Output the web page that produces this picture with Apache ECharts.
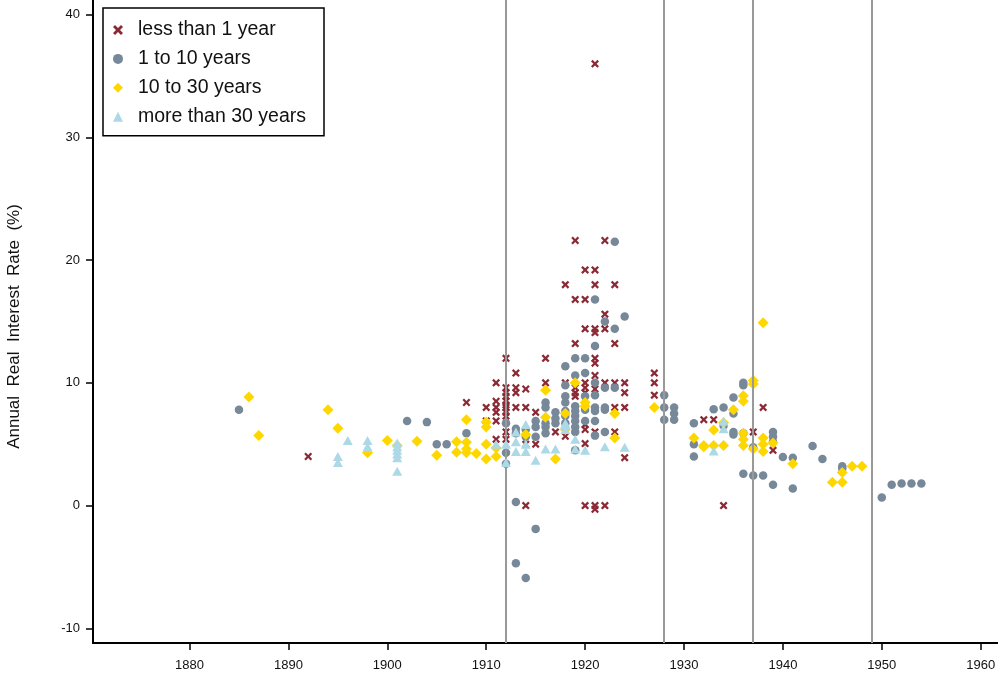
<!DOCTYPE html>
<html lang="en">
<head>
    <meta charset="UTF-8">
    <title>Annual Real Interest Rate</title>
    <script src="https://cdn.jsdelivr.net/npm/echarts@6/dist/echarts.min.js"></script>
    <style>
        html, body { margin: 0; padding: 0; background: #fff; }
    </style>
</head>
<body>
    <div id="chart" style="width: 998px;height:684px;"></div>
<script type="text/javascript">
    // [year, rate %]
    var lessThan1 = [
        [1892, 4.0], [1908, 8.4], [1910, 8.0], [1910, 6.9],
        [1911, 10.0], [1911, 8.5], [1911, 8.0], [1911, 7.6], [1911, 6.9], [1911, 5.4],
        [1912, 12.0], [1912, 9.6], [1912, 9.2], [1912, 8.9], [1912, 8.5], [1912, 8.2],
        [1912, 8.0], [1912, 7.6], [1912, 7.3], [1912, 6.0], [1912, 5.4],
        [1913, 10.8], [1913, 9.6], [1913, 9.2], [1913, 8.0],
        [1914, 9.5], [1914, 8.0], [1914, 5.0], [1914, 0.0],
        [1915, 7.6], [1915, 5.0], [1916, 12.0], [1916, 10.0], [1917, 6.0],
        [1918, 18.0], [1918, 10.0], [1918, 5.65],
        [1919, 21.6], [1919, 16.8], [1919, 13.2], [1919, 9.6], [1919, 9.2], [1919, 8.9],
        [1920, 19.2], [1920, 16.8], [1920, 14.4], [1920, 10.0], [1920, 9.6], [1920, 9.2],
        [1920, 6.6], [1920, 6.2], [1920, 5.05], [1920, 0.0],
        [1921, 36.0], [1921, 19.2], [1921, 18.0], [1921, 14.4], [1921, 14.1], [1921, 12.0],
        [1921, 11.6], [1921, 10.6], [1921, 9.5], [1921, 6.0], [1921, 0.0], [1921, -0.3],
        [1922, 21.6], [1922, 15.6], [1922, 14.4], [1922, 10.0], [1922, 0.0],
        [1923, 18.0], [1923, 13.2], [1923, 10.0], [1923, 8.0], [1923, 6.0],
        [1924, 10.0], [1924, 9.2], [1924, 8.0], [1924, 3.9],
        [1927, 10.8], [1927, 10.0], [1927, 9.0],
        [1932, 7.0], [1933, 7.0], [1934, 0.0], [1937, 6.0], [1938, 8.0], [1939, 4.5]
    ];
    var oneTo10 = [
        [1885, 7.8], [1902, 6.9], [1904, 6.8], [1905, 5.0], [1906, 5.0], [1908, 5.9],
        [1912, 6.7], [1912, 4.3], [1912, 3.4],
        [1913, 6.25], [1913, 5.9], [1913, 0.3], [1913, -4.7],
        [1914, 6.2], [1914, 5.6], [1914, -5.9],
        [1915, 6.9], [1915, 6.4], [1915, 5.6], [1915, -1.9],
        [1916, 8.4], [1916, 8.0], [1916, 6.7], [1916, 6.4], [1916, 5.9],
        [1917, 7.6], [1917, 7.1], [1917, 6.7],
        [1918, 11.35], [1918, 9.8], [1918, 8.9], [1918, 8.4], [1918, 7.7], [1918, 7.3], [1918, 6.7],
        [1919, 12.0], [1919, 10.6], [1919, 8.1], [1919, 7.7], [1919, 7.3], [1919, 6.9],
        [1919, 6.4], [1919, 6.0], [1919, 4.5],
        [1920, 12.0], [1920, 10.8], [1920, 8.9], [1920, 7.8], [1920, 6.9],
        [1921, 16.8], [1921, 13.0], [1921, 10.0], [1921, 9.0], [1921, 8.0], [1921, 7.7],
        [1921, 6.9], [1921, 5.7],
        [1922, 15.0], [1922, 9.6], [1922, 8.0], [1922, 7.8], [1922, 6.0],
        [1923, 21.5], [1923, 14.4], [1923, 9.6], [1924, 15.4],
        [1928, 9.0], [1928, 8.0], [1928, 7.0], [1929, 8.0], [1929, 7.5], [1929, 7.0],
        [1931, 6.7], [1931, 5.0], [1931, 4.0], [1933, 7.85], [1934, 8.0], [1934, 6.5],
        [1935, 8.8], [1935, 7.5], [1935, 6.0], [1935, 5.8],
        [1936, 10.0], [1936, 9.8], [1936, 5.9], [1936, 2.6],
        [1937, 4.75], [1937, 2.45], [1938, 2.45],
        [1939, 6.0], [1939, 5.6], [1939, 5.2], [1939, 1.7],
        [1940, 3.95], [1941, 3.9], [1941, 1.4], [1943, 4.85], [1944, 3.8],
        [1946, 3.2], [1946, 3.0],
        [1950, 0.65], [1951, 1.7], [1952, 1.8], [1953, 1.8], [1954, 1.8]
    ];
    var tenTo30 = [
        [1886, 8.85], [1887, 5.7], [1894, 7.8], [1895, 6.3], [1898, 4.3], [1900, 5.3],
        [1901, 4.9], [1903, 5.25], [1905, 4.1], [1907, 5.2], [1907, 4.35],
        [1908, 7.0], [1908, 5.15], [1908, 4.6], [1908, 4.3], [1909, 4.25],
        [1910, 6.8], [1910, 6.4], [1910, 5.0], [1910, 3.8], [1911, 4.7], [1911, 4.0],
        [1914, 5.8], [1916, 9.4], [1916, 7.2], [1917, 3.8], [1918, 7.5], [1918, 6.2],
        [1919, 10.0], [1920, 8.4], [1920, 8.1], [1923, 7.5], [1923, 5.5], [1927, 8.0],
        [1931, 5.5], [1932, 4.9], [1932, 4.8], [1933, 6.15], [1933, 4.9],
        [1934, 6.75], [1934, 4.9], [1935, 7.8],
        [1936, 8.95], [1936, 8.5], [1936, 5.9], [1936, 5.4], [1936, 4.9],
        [1937, 10.2], [1937, 9.9], [1937, 4.6],
        [1938, 14.9], [1938, 5.5], [1938, 5.0], [1938, 4.4], [1939, 5.1],
        [1941, 3.4], [1945, 1.9], [1946, 2.7], [1946, 1.9], [1947, 3.2], [1948, 3.2]
    ];
    var moreThan30 = [
        [1895, 4.0], [1895, 3.5], [1896, 5.3], [1898, 5.3], [1898, 4.8],
        [1901, 5.1], [1901, 4.8], [1901, 4.5], [1901, 4.2], [1901, 3.9], [1901, 2.8],
        [1911, 5.0], [1912, 5.0], [1912, 3.5],
        [1913, 6.0], [1913, 5.2], [1913, 4.4], [1914, 6.6], [1914, 5.0], [1914, 4.4],
        [1915, 3.7], [1916, 4.6], [1917, 4.6], [1918, 6.7], [1918, 6.6], [1918, 6.2],
        [1919, 5.4], [1919, 4.6], [1920, 4.5], [1922, 4.8], [1924, 4.75],
        [1933, 4.45], [1934, 6.9], [1934, 6.25]
    ];
    var eventYears = [1912, 1928, 1937, 1949];
    var xTicks = [1880, 1890, 1900, 1910, 1920, 1930, 1940, 1950, 1960];
    var yTicks = [-10, 0, 10, 20, 30, 40];
    var seriesNames = ['less than 1 year', '1 to 10 years', '10 to 30 years', 'more than 30 years'];

    var crossPath = 'path://M2,0 L5,3 L8,0 L10,2 L7,5 L10,8 L8,10 L5,7 L2,10 L0,8 L3,5 L0,2 Z';
    var fontFam = '"Liberation Sans", Arial, sans-serif';

    var myChart = echarts.init(document.getElementById('chart'));

    var option = {
        animation: false,
        backgroundColor: '#fff',
        grid: { left: 93, right: 0, top: 0, bottom: 41, containLabel: false, outerBoundsMode: 'none' },
        legend: {
            left: 103, top: 8,
            orient: 'vertical',
            data: seriesNames,
            borderColor: '#000', borderWidth: 1.5,
            padding: [12, 18, 9, 10],
            itemWidth: 10, itemHeight: 10, itemGap: 8.9,
            textStyle: { fontFamily: fontFam, fontSize: 19.5, color: '#111', lineHeight: 18.5, padding: [0, 0, 0, 10] }
        },
        xAxis: {
            type: 'value', min: 1870.24, max: 1961.75,
            axisLine: { show: true, onZero: false, lineStyle: { color: '#000', width: 2 } },
            axisTick: { show: true, length: 7, customValues: xTicks, lineStyle: { color: '#000', width: 1.5 } },
            axisLabel: {
                customValues: xTicks, margin: 16, fontFamily: fontFam, fontSize: 13, color: '#111',
                formatter: function (v) { return String(v); }
            },
            splitLine: { show: false }
        },
        yAxis: {
            type: 'value', min: -11.2, max: 41.2,
            name: 'Annual  Real  Interest  Rate  (%)',
            nameLocation: 'middle', nameGap: 70,
            nameTextStyle: { fontFamily: fontFam, fontSize: 17, color: '#111', padding: [0, 10, 0, 0] },
            axisLine: { show: true, onZero: false, lineStyle: { color: '#000', width: 2 } },
            axisTick: { show: true, length: 7, customValues: yTicks, lineStyle: { color: '#000', width: 1.5 } },
            axisLabel: { customValues: yTicks, margin: 13, fontFamily: fontFam, fontSize: 13, color: '#111' },
            splitLine: { show: false }
        },
        series: [
            {
                type: 'scatter', data: [], silent: true, z: 1,
                markLine: {
                    silent: true, symbol: ['none', 'none'],
                    label: { show: false },
                    lineStyle: { color: '#999', width: 2, type: 'solid' },
                    data: eventYears.map(function (y) { return { xAxis: y }; })
                }
            },
            {
                name: seriesNames[0], type: 'scatter', data: lessThan1, z: 2,
                symbol: crossPath, symbolSize: 8,
                itemStyle: { color: '#8b2a35', opacity: 1 }
            },
            {
                name: seriesNames[1], type: 'scatter', data: oneTo10, z: 3,
                symbol: 'circle', symbolSize: 8.5,
                itemStyle: { color: '#778899', opacity: 1 }
            },
            {
                name: seriesNames[2], type: 'scatter', data: tenTo30, z: 4,
                symbol: 'diamond', symbolSize: [11, 11],
                itemStyle: { color: '#ffd700', opacity: 1 }
            },
            {
                name: seriesNames[3], type: 'scatter', data: moreThan30, z: 5,
                symbol: 'triangle', symbolSize: [10, 9],
                itemStyle: { color: '#add8e6', opacity: 1 }
            }
        ]
    };

    myChart.setOption(option);
</script>
</body>
</html>
